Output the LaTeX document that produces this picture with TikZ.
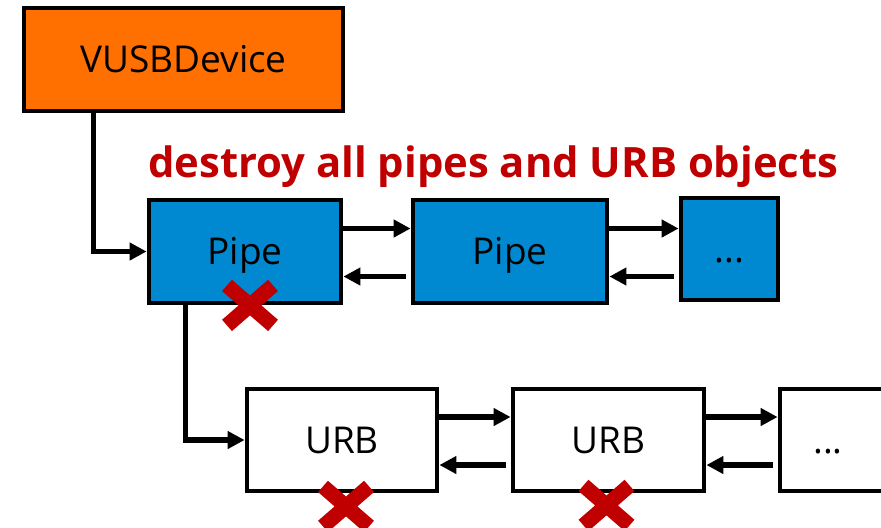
\documentclass[tikz,border=0pt]{standalone}
\usepackage{fontspec}
\setmainfont{Open Sans}
\usetikzlibrary{arrows.meta}

\begin{document}
\begin{tikzpicture}[x=0.5pt,y=-0.5pt]
\definecolor{deviceorange}{RGB}{255,112,0}
\definecolor{pipeblue}{RGB}{0,137,208}
\definecolor{killred}{RGB}{192,0,0}
\def\fwd{11.5pt}
\def\back{-12.5pt}
\tikzset{
  box/.style={draw=black,line width=2.4pt,minimum height=51.5pt,inner sep=0pt,
    text height=13.3pt,text depth=0pt,font=\fontsize{18.5}{22}\selectfont},
  link/.style={line width=2.6pt,-{Triangle[length=8.5pt,width=8.5pt]}},
  killmark/.style={killred,line width=7.5pt,line cap=butt}
}

\useasboundingbox (0,0) rectangle (881,527);

\node[box,fill=deviceorange,minimum width=159.5pt] (device) at (183.5,59.5) {VUSBDevice};
\node[anchor=base west,inner sep=0pt,text=killred,font=\fontsize{20.9}{24}\selectfont\bfseries]
  (note) at (148,177) {destroy all pipes and URB objects};

\node[box,fill=pipeblue,minimum width=96pt] (pipeone) at (245,251.5) {Pipe};
\node[box,fill=pipeblue,minimum width=97pt] (pipetwo) at (510,251.5) {Pipe};
\node[box,fill=pipeblue,minimum width=48.5pt,minimum height=51pt] (pipemore) at (729.5,249) {...};

\node[box,fill=white,minimum width=95pt,minimum height=51pt] (urbone) at (342,440) {URB};
\node[box,fill=white,minimum width=95.5pt,minimum height=51pt] (urbtwo) at (608.5,440) {URB};
\node[box,fill=white,minimum width=55pt,minimum height=51pt] (urbmore) at (835,440) {...\hspace*{7pt}};

\draw[link] ([xshift=36pt]device.south west) |- (pipeone.west);
\draw[link] ([xshift=19.5pt]pipeone.south west) |- (urbone.west);

\foreach \from/\to in {pipeone/pipetwo,pipetwo/pipemore,urbone/urbtwo,urbtwo/urbmore} {
  \draw[link] ([yshift=\fwd]\from.east) -- ([yshift=\fwd]\from.east -| \to.west);
  \draw[link] ([yshift=\back,xshift=-2.5pt]\from.east -| \to.west) -- ([yshift=\back]\from.east);
}

\foreach \spot/\dx/\dy in {pipeone/5/0,urbone/4/13,urbtwo/-2/12} {
  \begin{scope}[shift={(\spot.south)}]
    \draw[killmark] (\dx-23,\dy-20) -- (\dx+23,\dy+20)
      (\dx-23,\dy+20) -- (\dx+23,\dy-20);
  \end{scope}
}
\end{tikzpicture}
\end{document}
